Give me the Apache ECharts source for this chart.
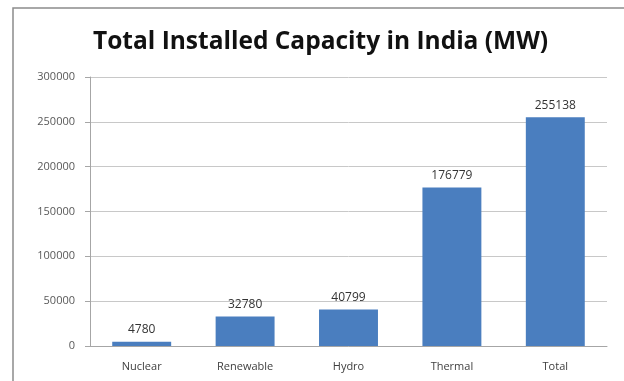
<!DOCTYPE html>
<html>
<head>
    <meta charset="UTF-8">
    <title>Total Installed Capacity in India</title>
    <script type="text/javascript" src="https://cdn.jsdelivr.net/npm/echarts@6/dist/echarts.min.js"></script>
    <style>
        html, body { margin: 0; padding: 0; background: #fff; }
        #chart { width: 624px; height: 381px; }
    </style>
</head>
<body>
<div id="chart"></div>
<script>
    var categories = ['Nuclear', 'Renewable', 'Hydro', 'Thermal', 'Total'];
    var capacity = [4780, 32780, 40799, 176779, 255138];
    var yTicks = [0, 50000, 100000, 150000, 200000, 250000, 300000];

    var myChart = echarts.init(document.getElementById('chart'));
    myChart.setOption({
        animation: false,
        textStyle: { fontFamily: 'Open Sans' },
        title: {
            text: 'Total Installed Capacity in India (MW)',
            left: 88,
            top: 25,
            textStyle: {
                fontFamily: 'Open Sans',
                fontSize: 24.5,
                fontWeight: 'bold',
                color: '#111'
            }
        },
        // chart frame (right/bottom edges fall outside the picture)
        graphic: [{
            type: 'rect',
            shape: { x: 13, y: 8, width: 640, height: 400 },
            style: { fill: 'none', stroke: '#8c8c8c', lineWidth: 1.5 },
            silent: true
        }],
        grid: {
            left: 90,
            right: 17,
            top: 77,
            bottom: 35
        },
        xAxis: {
            type: 'category',
            data: categories,
            axisLine: { lineStyle: { color: '#a6a6a6' } },
            axisTick: { show: false },
            axisLabel: { color: '#404040', fontSize: 11, margin: 15 }
        },
        yAxis: {
            type: 'value',
            min: yTicks[0],
            max: yTicks[yTicks.length - 1],
            interval: 50000,
            axisLine: { show: true, lineStyle: { color: '#a6a6a6' } },
            axisTick: { show: true, length: 5, lineStyle: { color: '#a6a6a6' } },
            splitLine: { lineStyle: { color: '#c8c8c8' } },
            axisLabel: {
                color: '#595959',
                fontSize: 11,
                margin: 15,
                formatter: function (v) { return String(v); }
            }
        },
        series: [{
            name: 'Capacity',
            type: 'bar',
            data: capacity,
            barWidth: '57%',
            itemStyle: { color: '#4a7ebf' },
            label: {
                show: true,
                position: 'top',
                distance: 6,
                color: '#333',
                fontSize: 12
            }
        }]
    });
</script>
</body>
</html>
